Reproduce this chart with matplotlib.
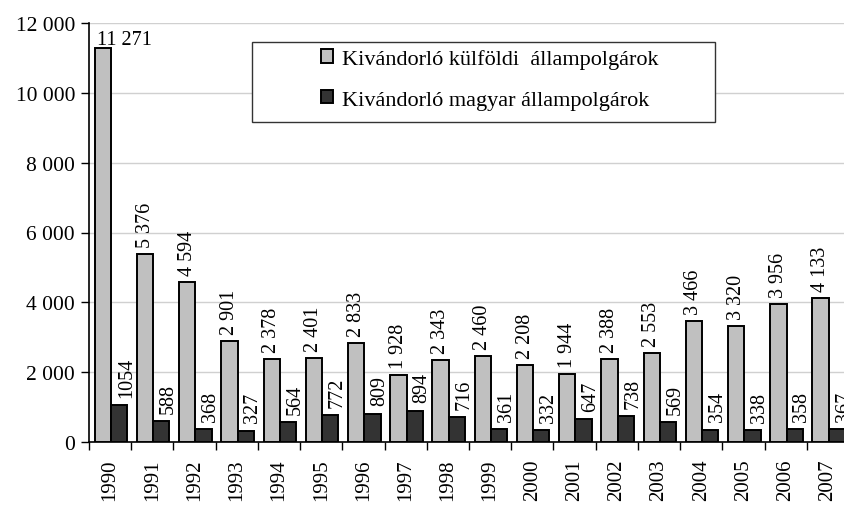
import numpy as np
import matplotlib
matplotlib.use("Agg")
import matplotlib.pyplot as plt
from matplotlib.patches import Rectangle

years = [str(y) for y in range(1990, 2008)]
kulfoldi = [11271, 5376, 4594, 2901, 2378, 2401, 2833, 1928, 2343, 2460,
            2208, 1944, 2388, 2553, 3466, 3320, 3956, 4133]
magyar = [1054, 588, 368, 327, 564, 772, 809, 894, 716, 361,
          332, 647, 738, 569, 354, 338, 358, 367]
series_names = ["Kivándorló külföldi  állampolgárok", "Kivándorló magyar állampolgárok"]


def fmt(v):
    return f"{v:,}".replace(",", " ")


plt.rcParams['font.family'] = ['Liberation Serif', 'DejaVu Serif']

fig = plt.figure(figsize=(8.44, 5.10), dpi=100)
ax = fig.add_axes([89 / 844, 67 / 510, 760 / 844, 419 / 510])

x = np.arange(len(years))
w = 0.385
b1 = ax.bar(x - w / 2 + 0.02, kulfoldi, w, color="#c0c0c0", edgecolor="black",
            linewidth=1.4, zorder=3, label=series_names[0])
b2 = ax.bar(x + w / 2 + 0.02, magyar, w, color="#333333", edgecolor="black",
            linewidth=1.4, zorder=3, label=series_names[1])

for i, v in enumerate(kulfoldi):
    if i == 0:
        ax.annotate(fmt(v), (x[i] - w + 0.02, v), xytext=(2, 3),
                    textcoords="offset points", ha="left", va="baseline",
                    fontsize=14.5)
    else:
        ax.annotate(fmt(v), (x[i] - w / 2 + 0.02, v), xytext=(0, 5),
                    textcoords="offset points", ha="center", va="bottom",
                    rotation=90, fontsize=14.5)
for i, v in enumerate(magyar):
    ax.annotate(str(v), (x[i] + w / 2 + 0.19, v), xytext=(0, 6),
                textcoords="offset points", ha="center", va="bottom",
                rotation=90, fontsize=14.5)

ax.set_xlim(-0.5, len(years) - 0.5)
ax.set_ylim(0, 12000)
yt = np.arange(0, 12001, 2000)
ax.set_yticks(yt)
ax.set_yticklabels([fmt(v) for v in yt], fontsize=15.5)
ax.set_xticks(x)
ax.set_xticklabels(years, rotation=90, fontsize=15)
ax.set_xticks(np.arange(-0.5, len(years), 1), minor=True)
ax.tick_params(axis="x", which="major", length=0, pad=12)
ax.tick_params(axis="x", which="minor", length=6, width=1, direction="out")
ax.tick_params(axis="y", length=6, width=1, direction="out", pad=4)

ax.grid(axis="y", color="#d0d0d0", linewidth=1, zorder=0)
for s in ["top", "right"]:
    ax.spines[s].set_visible(False)
ax.spines["left"].set_linewidth(1.2)
ax.spines["bottom"].set_linewidth(1.2)

# legend box
box = Rectangle(((252 - 89) / 760, (443 - 123) / 419), (715 - 252) / 760, 80 / 419,
                transform=ax.transAxes, facecolor="white", edgecolor="#333333",
                linewidth=1, zorder=4)
ax.add_patch(box)
leg = ax.legend(loc="upper left", bbox_to_anchor=((321 - 89) / 760, (443 - 50) / 419),
                frameon=False, fontsize=16, borderpad=0, borderaxespad=0,
                handlelength=0.55, handleheight=0.55, handletextpad=0.4,
                labelspacing=0.95)
leg.set_zorder(5)

fig.savefig("out.png", dpi=100)
